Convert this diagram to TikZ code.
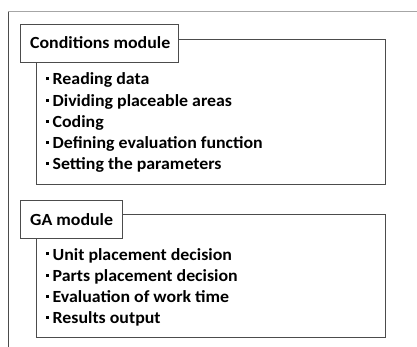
\documentclass[tikz,border=0pt]{standalone}
\usepackage{fontspec}
\setmainfont{Carlito}[FakeStretch=1.05]
\newcommand\blt{\rule[0.28em]{0.18em}{0.18em}\hspace{0.2em}}
\begin{document}
\begin{tikzpicture}[x=1pt,y=-1pt,
  frameline/.style={line width=1pt},
  mainbox/.style={draw=black!70, line width=1pt, anchor=north west, inner sep=0pt},
  headbox/.style={draw=black!70, line width=1pt, fill=white, anchor=north west, inner sep=0pt},
  headtext/.style={anchor=base west, inner sep=0pt, font=\fontsize{17}{20}\selectfont\bfseries},
  item/.style={anchor=base west, inner sep=0pt, font=\fontsize{17}{20}\selectfont\bfseries}]
\useasboundingbox (0,0) rectangle (417,347);
% outer frame
\coordinate (fbl) at (8,347);
\coordinate (ftl) at (8,12);
\coordinate (ftr) at (417,12);
\draw[frameline, draw=black!70] (fbl) -- (ftl);
\draw[frameline, draw=black!35] (ftl) -- (ftr);
% Conditions module
\node[mainbox, minimum width=349pt, minimum height=145pt] (condbox) at (36,39) {};
\node[headbox, minimum width=158pt, minimum height=38pt] (condhead) at (20,24) {};
\node[headtext] (condtitle) at (30,48.5) {Conditions module};
\node[item] (c1) at (46,85) {\blt Reading data};
\node[item] (c2) at (46,106.5) {\blt Dividing placeable areas};
\node[item] (c3) at (46,127.5) {\blt Coding};
\node[item] (c4) at (46,148.5) {\blt Defining evaluation function};
\node[item] (c5) at (46,169.5) {\blt Setting the parameters};
% GA module
\node[mainbox, minimum width=349pt, minimum height=123pt] (gabox) at (36,214) {};
\node[headbox, minimum width=102pt, minimum height=38pt] (gahead) at (20,200) {};
\node[headtext] (gatitle) at (30,225.5) {GA module};
\node[item] (g1) at (46,260) {\blt Unit placement decision};
\node[item] (g2) at (46,281.5) {\blt Parts placement decision};
\node[item] (g3) at (46,302.5) {\blt Evaluation of work time};
\node[item] (g4) at (46,323.5) {\blt Results output};
\end{tikzpicture}
\end{document}
